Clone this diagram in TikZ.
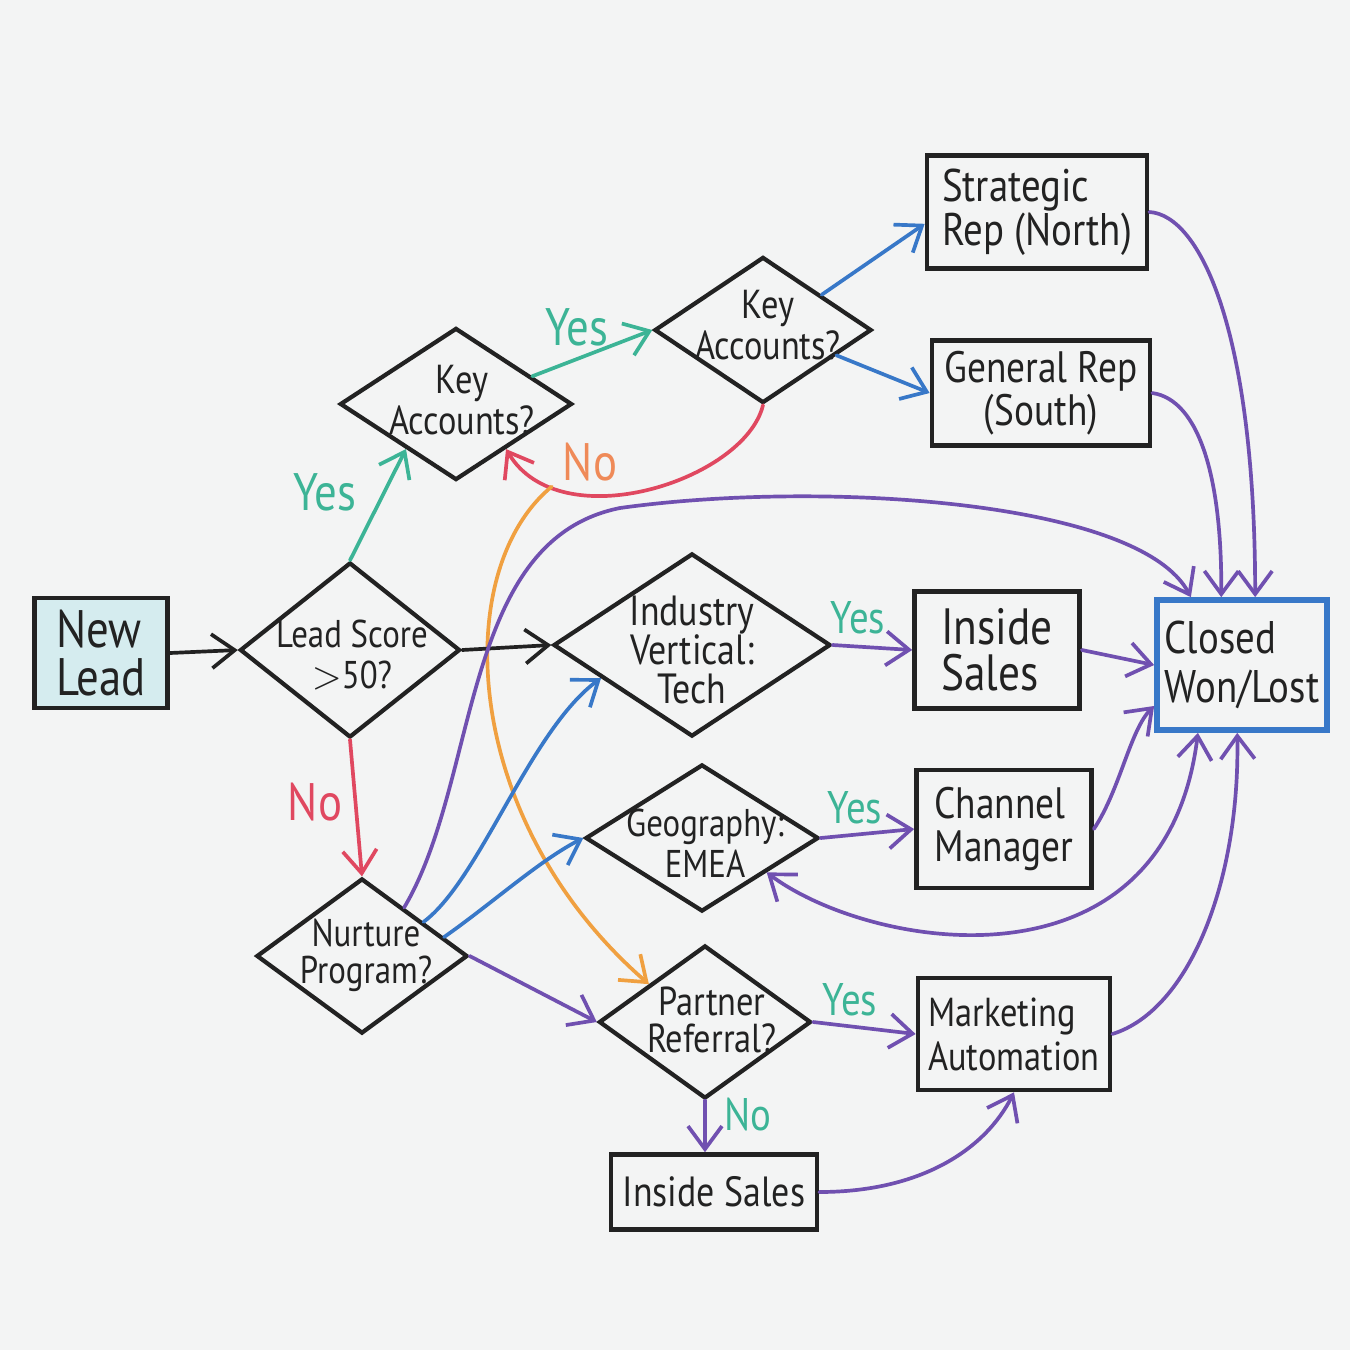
\documentclass[tikz,border=0pt]{standalone}
\usepackage{fontspec}
\setmainfont{PT Sans}[FakeStretch=0.85]
\usetikzlibrary{arrows.meta,shapes.geometric}
\definecolor{mkteal}{HTML}{3CB496}
\definecolor{mkred}{HTML}{E04860}
\definecolor{mkorange}{HTML}{F0A040}
\definecolor{mkorangetx}{HTML}{EF8A58}
\definecolor{mkblue}{HTML}{3878C8}
\definecolor{mkpurple}{HTML}{7050B0}
\definecolor{mkink}{HTML}{222222}
\definecolor{board}{HTML}{F3F4F4}
\definecolor{leadfill}{HTML}{D5ECEF}
\tikzset{
  box/.style={draw=mkink, line width=1.3pt, rectangle, inner sep=0pt, text=mkink},
  dia/.style={draw=mkink, line width=1.2pt, diamond, inner sep=0pt},
  dtxt/.style={align=center, inner sep=0pt, text=mkink},
  conn/.style={line width=1.05pt, line cap=round, -{Straight Barb[length=2.3mm,width=3.4mm]}},
  conntwo/.style={line width=1.05pt, line cap=round, {Straight Barb[length=2.3mm,width=3.4mm]}-{Straight Barb[length=2.3mm,width=3.4mm]}},
  biglab/.style={font=\fontsize{15}{15}\selectfont, inner sep=0pt},
  smalllab/.style={font=\fontsize{13}{13}\selectfont, inner sep=0pt},
}
\begin{document}
\begin{tikzpicture}[x=0.01cm, y=-0.01cm]
\fill[board] (0,0) rectangle (1350,1350);
\useasboundingbox (0,0) rectangle (1350,1350);

% boxes
\node[box, fill=leadfill, minimum width=1.33cm, minimum height=1.10cm, align=left, font=\fontsize{15}{13.5}\selectfont] (nl) at (101,653) {New\\Lead};
\node[box, minimum width=2.20cm, minimum height=1.13cm, align=left, font=\fontsize{13}{12.5}\selectfont] (sr) at (1037,212) {Strategic\\Rep (North)};
\node[box, minimum width=2.18cm, minimum height=1.05cm, align=center, font=\fontsize{12.5}{11}\selectfont] (gr) at (1041,393) {General Rep\\(South)};
\node[box, minimum width=1.65cm, minimum height=1.17cm, align=left, font=\fontsize{14.5}{13}\selectfont] (is1) at (997,650) {Inside\\Sales};
\node[box, draw=mkblue, line width=1.6pt, minimum width=1.70cm, minimum height=1.30cm, align=left, font=\fontsize{13}{14}\selectfont] (cl) at (1242,665) {Closed\\Won/Lost};
\node[box, minimum width=1.75cm, minimum height=1.18cm, align=left, font=\fontsize{12.5}{12}\selectfont] (ch) at (1004,829) {Channel\\Manager};
\node[box, minimum width=1.92cm, minimum height=1.12cm, align=left, font=\fontsize{11.5}{12.5}\selectfont] (ma) at (1014,1034) {Marketing\\Automation};
\node[box, minimum width=2.06cm, minimum height=0.75cm, font=\fontsize{12}{12}\selectfont] (is2) at (714,1192) {Inside Sales};

% diamonds
\node[dia, minimum width=2.20cm, minimum height=1.75cm] (ls) at (350,650) {};
\node[dtxt, font=\fontsize{11}{11.5}\selectfont] (lst) at (352,655) {Lead Score\\$>$50?};
\node[dia, minimum width=2.32cm, minimum height=1.52cm] (k1) at (456,404) {};
\node[dtxt, font=\fontsize{11.5}{10.5}\selectfont] (k1t) at (462,400) {Key\\Accounts?};
\node[dia, minimum width=2.17cm, minimum height=1.46cm] (k2) at (763,330) {};
\node[dtxt, font=\fontsize{11.5}{10.5}\selectfont] (k2t) at (768,325) {Key\\Accounts?};
\node[dia, minimum width=2.77cm, minimum height=1.83cm] (ind) at (692,645) {};
\node[dtxt, font=\fontsize{12}{11}\selectfont] (indt) at (692,650) {Industry\\Vertical:\\Tech};
\node[dia, minimum width=2.33cm, minimum height=1.47cm] (ge) at (702,838) {};
\node[dtxt, font=\fontsize{11}{11.5}\selectfont] (get) at (705,843) {Geography:\\EMEA};
\node[dia, minimum width=2.11cm, minimum height=1.55cm] (np) at (362,956) {};
\node[dtxt, font=\fontsize{11}{10.5}\selectfont] (npt) at (366,955) {Nurture\\Program?};
\node[dia, minimum width=2.12cm, minimum height=1.53cm] (pr) at (705,1022) {};
\node[dtxt, font=\fontsize{11.5}{10.5}\selectfont] (prt) at (712,1020) {Partner\\Referral?};

% connectors
\draw[conn, mkink] (nl.east) -- (ls.west);
\draw[conn, mkteal] (ls.north) -- (k1.222);
\draw[conn, mkteal] (k1.20) -- (k2.west);
\draw[conn, mkred] (k2.south) .. controls (745,480) and (560,540) .. coordinate[pos=0.8] (nofork) (k1.-42);
\draw[conn, mkorange] (nofork) .. controls (450,570) and (460,820) .. (pr.146);
\draw[conn, mkblue] (k2.31) -- (sr.186);
\draw[conn, mkblue] (k2.-19) -- (gr.west);
\draw[conn, mkpurple] (sr.east) .. controls (1200,215) and (1255,330) .. (cl.79);
\draw[conn, mkpurple] (gr.east) .. controls (1200,400) and (1222,480) .. (cl.107);
\draw[conn, mkink] (ls.east) -- (ind.west);
\draw[conn, mkred] (ls.south) -- (np.north);
\draw[conn, mkpurple] (ind.east) -- (is1.west);
\draw[conn, mkpurple] (is1.east) -- (cl.west);
\draw[conn, mkpurple] (np.49) .. controls (480,780) and (460,540) .. (620,508) .. controls (820,480) and (1140,500) .. (cl.127);
\draw[conn, mkblue] (np.29) .. controls (480,880) and (530,730) .. (ind.200);
\draw[conn, mkblue] (np.13) .. controls (490,905) and (540,860) .. (ge.west);
\draw[conn, mkpurple] (np.east) -- (pr.west);
\draw[conn, mkpurple] (ge.east) -- (ch.west);
\draw[conn, mkpurple] (ch.east) .. controls (1120,790) and (1130,730) .. (cl.205);
\draw[conntwo, mkpurple] (ge.-28) .. controls (870,950) and (1165,1000) .. (cl.-123);
\draw[conn, mkpurple] (pr.east) -- (ma.west);
\draw[conn, mkpurple] (pr.south) -- (pr.south |- is2.north);
\draw[conn, mkpurple] (is2.east) .. controls (920,1192) and (985,1150) .. (ma.south);
\draw[conn, mkpurple] (ma.east) .. controls (1190,1010) and (1240,880) .. (cl.266);

% labels
\node[biglab, text=mkteal] (y1) at (325,492) {Yes};
\node[biglab, text=mkteal] (y2) at (577,327) {Yes};
\node[biglab, text=mkorangetx] (n1) at (590,462) {No};
\node[biglab, text=mkred] (n2) at (315,802) {No};
\node[smalllab, text=mkteal] (y3) at (858,618) {Yes};
\node[smalllab, text=mkteal] (y4) at (855,808) {Yes};
\node[smalllab, text=mkteal] (y5) at (850,1000) {Yes};
\node[smalllab, text=mkteal] (n3) at (748,1115) {No};
\end{tikzpicture}
\end{document}
